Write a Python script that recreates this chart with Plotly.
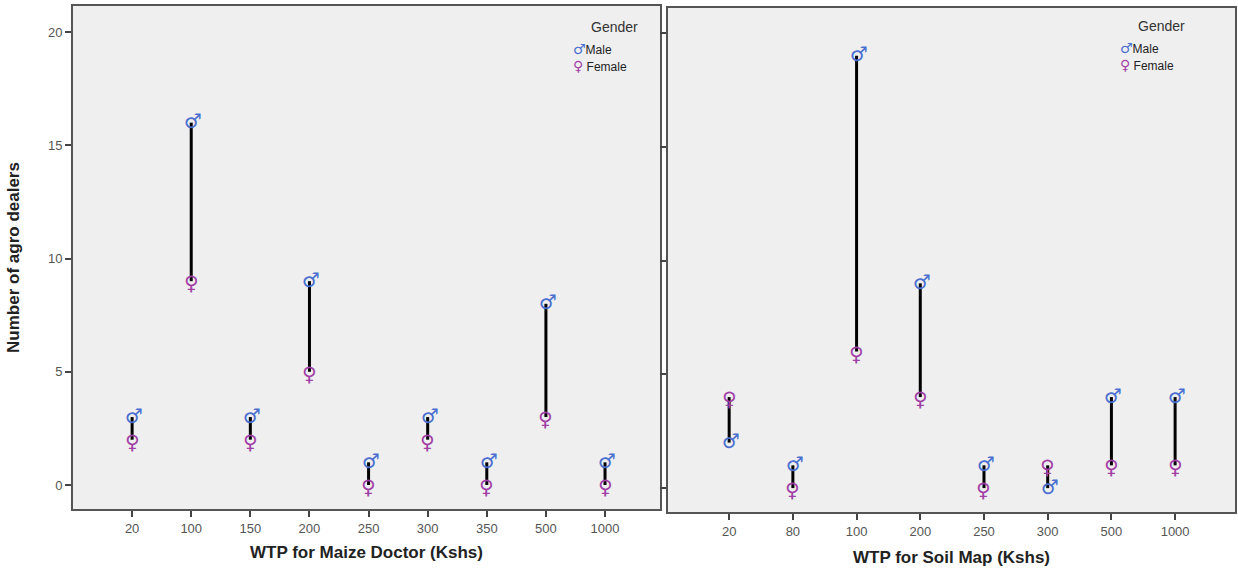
import plotly.graph_objects as go

# ---- data ----
maize_cats = ["20", "100", "150", "200", "250", "300", "350", "500", "1000"]
maize_male = [3, 16, 3, 9, 1, 3, 1, 8, 1]
maize_female = [2, 9, 2, 5, 0, 2, 0, 3, 0]

soil_cats = ["20", "80", "100", "200", "250", "300", "500", "1000"]
soil_male = [2, 1, 19, 9, 1, 0, 4, 4]
soil_female = [4, 0, 6, 4, 0, 1, 1, 1]

y_ticks = [0, 5, 10, 15, 20]

MALE_C = "#4a6fd0"
FEMALE_C = "#a13fa6"
PLOT_BG = "#efefef"
FRAME = "#555555"
FONT = "Liberation Sans, Arial, sans-serif"
GLYPH_SIZE = 20

fig = go.Figure()


def add_panel(cats, male, female, xa, ya):
    idx = list(range(len(cats)))
    lx, ly = [], []
    for i, m, f in zip(idx, male, female):
        lx += [i, i, None]
        ly += [f, m, None]
    fig.add_trace(go.Scatter(x=lx, y=ly, mode="lines",
                             line=dict(color="black", width=3),
                             xaxis=xa, yaxis=ya, showlegend=False, hoverinfo="skip"))
    for i, m, f in zip(idx, male, female):
        fig.add_annotation(x=i, y=m, xref=xa, yref=ya, text="♂", showarrow=False,
                           xanchor="center", yanchor="middle", xshift=2, yshift=1.5,
                           font=dict(family="DejaVu Sans", size=GLYPH_SIZE, color=MALE_C))
        fig.add_annotation(x=i, y=f, xref=xa, yref=ya, text="♀", showarrow=False,
                           xanchor="center", yanchor="middle", xshift=0, yshift=-2,
                           font=dict(family="DejaVu Sans", size=GLYPH_SIZE, color=FEMALE_C))


add_panel(maize_cats, maize_male, maize_female, "x", "y")
add_panel(soil_cats, soil_male, soil_female, "x2", "y2")

W, H = 1238, 569
common_axis = dict(showline=True, linecolor=FRAME, linewidth=2, mirror=True,
                   showgrid=False, zeroline=False, ticks="outside", ticklen=6,
                   tickcolor="#444", tickwidth=1.5,
                   tickfont=dict(family=FONT, size=13, color="#555555"))

fig.update_layout(
    width=W, height=H,
    margin=dict(l=0, r=0, t=0, b=0),
    paper_bgcolor="white",
    plot_bgcolor=PLOT_BG,
    showlegend=False,
    xaxis=dict(domain=[73 / W, 660 / W], range=[-1.0, 8.93],
               tickmode="array", tickvals=list(range(len(maize_cats))), ticktext=maize_cats,
               title=dict(text="<b>WTP for Maize Doctor (Kshs)</b>",
                          font=dict(family=FONT, size=17, color="#222"), standoff=12),
               anchor="y", **common_axis),
    yaxis=dict(domain=[1 - 509 / H, 1 - 6 / H], range=[-1.06, 21.15],
               tickmode="array", tickvals=y_ticks,
               title=dict(text="<b>Number of agro dealers</b>",
                          font=dict(family="Liberation Sans Narrow, " + FONT, size=17, color="#222"),
                          standoff=24),
               anchor="x", **common_axis),
    xaxis2=dict(domain=[668 / W, 1235 / W], range=[-0.96, 7.94],
                tickmode="array", tickvals=list(range(len(soil_cats))), ticktext=soil_cats,
                title=dict(text="<b>WTP for Soil Map (Kshs)</b>",
                           font=dict(family=FONT, size=17, color="#222"), standoff=14),
                anchor="y2", **common_axis),
    yaxis2=dict(domain=[1 - 512 / H, 1 - 8 / H], range=[-1.05, 21.1],
                tickmode="array", tickvals=y_ticks, showticklabels=False,
                anchor="x2", **common_axis),
)


# Legends (one per panel), as annotations
def add_legend(x_left, y_top):
    fig.add_annotation(x=x_left / W, y=1 - y_top / H, xref="paper", yref="paper",
                       xanchor="left", yanchor="middle", showarrow=False,
                       text="Gender", font=dict(family=FONT, size=14, color="#333"))
    fig.add_annotation(x=(x_left - 18) / W, y=1 - (y_top + 22) / H, xref="paper", yref="paper",
                       xanchor="left", yanchor="middle", showarrow=False,
                       text=f"<span style='color:{MALE_C};font-family:DejaVu Sans;font-size:14px'>♂</span>Male",
                       font=dict(family=FONT, size=12, color="#222"))
    fig.add_annotation(x=(x_left - 18) / W, y=1 - (y_top + 39) / H, xref="paper", yref="paper",
                       xanchor="left", yanchor="middle", showarrow=False,
                       text=f"<span style='color:{FEMALE_C};font-family:DejaVu Sans;font-size:14px'>♀</span> Female",
                       font=dict(family=FONT, size=12, color="#222"))


add_legend(589, 27)
add_legend(1136, 26)

fig.write_html("out.html", config={"displayModeBar": False},
               post_script="document.body.style.margin='0';document.body.style.padding='0';")
